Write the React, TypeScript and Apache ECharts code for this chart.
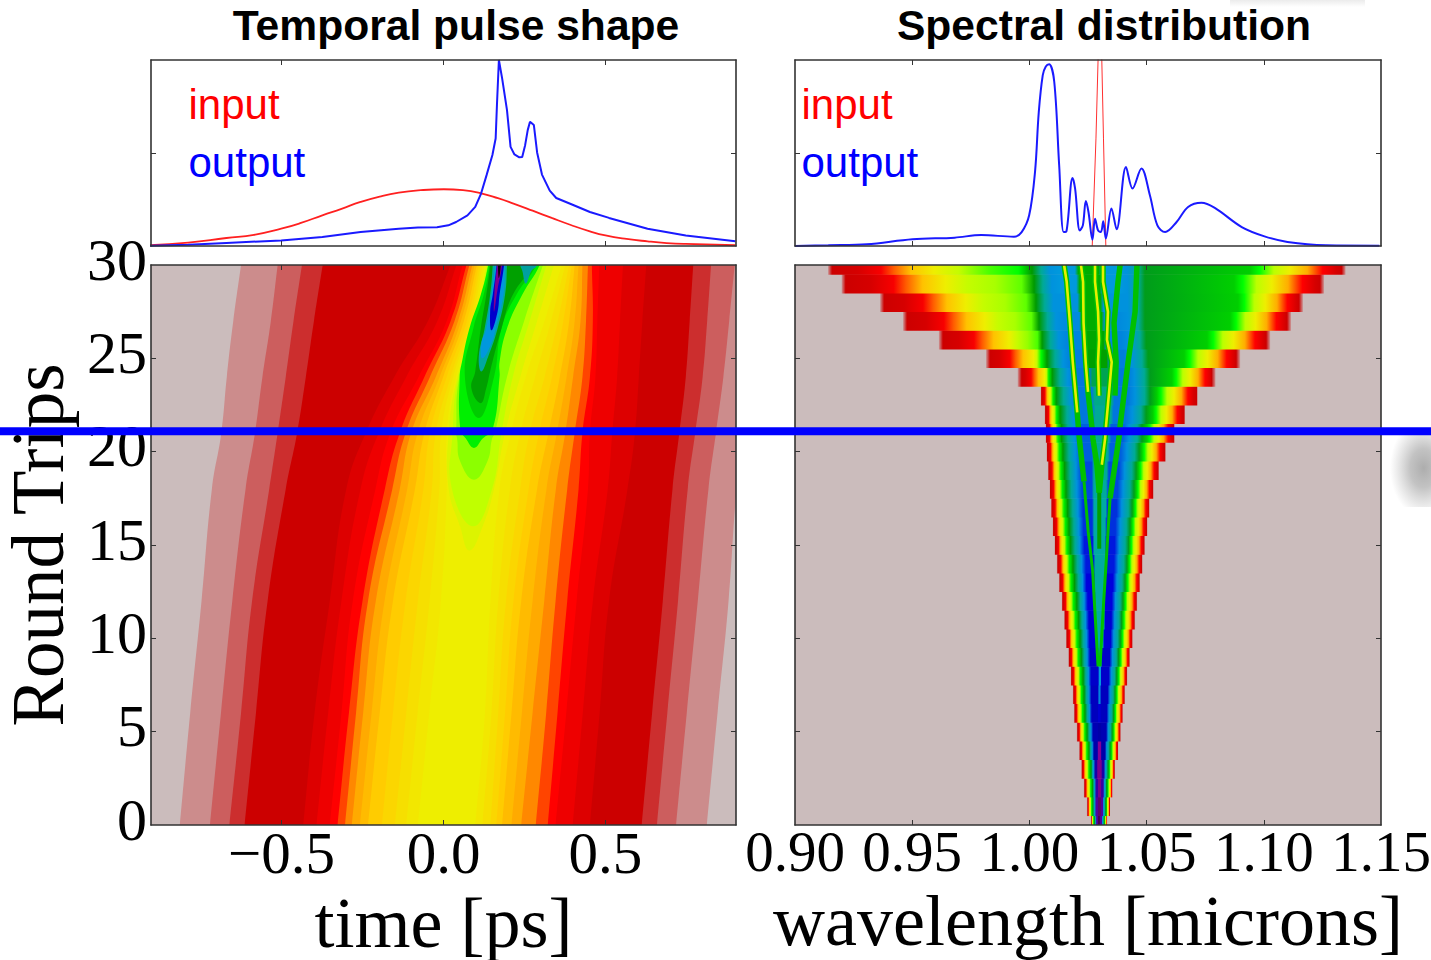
import React, { useEffect, useRef } from "react";
import * as echarts from "echarts";

// ---------- top panels ----------
const timeOutputT = [-0.906,-0.788,-0.67,-0.501,-0.374,-0.256,-0.138,-0.079,-0.02,0.015,0.039,0.074,0.098,0.116,0.133,0.151,0.161,0.165,0.171,0.181,0.196,0.207,0.219,0.234,0.243,0.252,0.26,0.267,0.279,0.289,0.304,0.328,0.348,0.393,0.452,0.511,0.63,0.748,0.901];
const timeOutputV = [0.002,0.007,0.016,0.03,0.048,0.075,0.093,0.099,0.101,0.111,0.129,0.165,0.21,0.282,0.381,0.489,0.578,0.758,1.0,0.901,0.731,0.533,0.492,0.477,0.479,0.542,0.623,0.668,0.65,0.503,0.384,0.298,0.258,0.226,0.183,0.151,0.093,0.056,0.025];
const timeInputT = [-0.906,-0.788,-0.67,-0.585,-0.501,-0.44,-0.374,-0.315,-0.256,-0.197,-0.138,-0.07,0.001,0.06,0.119,0.168,0.216,0.275,0.334,0.393,0.452,0.5,0.565,0.63,0.689,0.748,0.901];
const timeInputV = [0.004,0.018,0.043,0.06,0.093,0.124,0.165,0.2,0.237,0.266,0.287,0.3,0.305,0.3,0.282,0.257,0.228,0.19,0.151,0.113,0.079,0.057,0.038,0.025,0.016,0.011,0.004];

const specOutputL = [0.9,0.9142,0.9306,0.9501,0.9681,0.9795,0.9934,0.9967,0.9999,1.0024,1.004,1.0057,1.007,1.0084,1.0106,1.0127,1.0146,1.0158,1.0184,1.0195,1.0215,1.0228,1.0241,1.0252,1.0269,1.028,1.0293,1.0305,1.0315,1.0326,1.035,1.0372,1.0412,1.044,1.0478,1.0514,1.0546,1.0579,1.0628,1.0677,1.0734,1.0791,1.0906,1.1003,1.1101,1.1265,1.1493];
const specOutputV = [0,0.004,0.009,0.036,0.045,0.059,0.05,0.075,0.165,0.399,0.72,0.919,0.965,0.977,0.883,0.434,0.075,0.079,0.366,0.309,0.084,0.111,0.242,0.183,0.034,0.147,0.084,0.075,0.133,0.04,0.201,0.09,0.425,0.309,0.417,0.273,0.111,0.075,0.129,0.21,0.233,0.205,0.102,0.052,0.022,0.004,0.002];
const specInputL = [1.0268,1.0284,1.0294,1.03,1.0308,1.0316,1.0326];
const specInputV = [0,0.58,1.05,1.1,1.05,0.58,0];

// ---------- temporal contour map: boundaries in ps at each round trip ----------
const pulseRows = [0, 6, 12, 18, 21, 24, 27, 30];
const band1L = [-0.814,-0.782,-0.747,-0.715,-0.686,-0.669,-0.649,-0.625];
const band1R = [0.813,0.846,0.88,0.905,0.928,0.951,0.975,0.998];
const band2L = [-0.721,-0.687,-0.652,-0.611,-0.582,-0.559,-0.533,-0.512];
const band2R = [0.718,0.751,0.785,0.818,0.841,0.864,0.882,0.899];
const band3L = [-0.661,-0.625,-0.591,-0.538,-0.512,-0.487,-0.463,-0.437];
const band3R = [0.659,0.691,0.724,0.754,0.777,0.8,0.814,0.826];
const band4L = [-0.614,-0.579,-0.543,-0.487,-0.452,-0.425,-0.4,-0.373];
const band4R = [0.612,0.644,0.677,0.707,0.728,0.748,0.76,0.771];
const band5L = [-0.433,-0.398,-0.351,-0.3,-0.24,-0.152,-0.048,0.022];
const band5R = [0.452,0.482,0.511,0.568,0.591,0.603,0.614,0.626];
const band6L = [-0.392,-0.356,-0.315,-0.256,-0.2,-0.115,-0.019,0.04];
const band6R = [0.399,0.43,0.461,0.507,0.521,0.536,0.545,0.554];
const band7L = [-0.351,-0.315,-0.28,-0.21,-0.164,-0.077,0.01,0.059];
const band7R = [0.346,0.379,0.411,0.446,0.452,0.469,0.475,0.481];
const band8L = [-0.327,-0.292,-0.25,-0.181,-0.135,-0.059,0.022,0.071];
const band8R = [0.322,0.352,0.382,0.417,0.429,0.452,0.461,0.458];
const band9L = [-0.304,-0.27,-0.233,-0.158,-0.117,-0.042,0.034,0.08];
const band9R = [0.285,0.317,0.346,0.382,0.405,0.429,0.44,0.446];
const band10L = [-0.283,-0.248,-0.209,-0.135,-0.1,-0.024,0.045,0.089];
const band10R = [0.24,0.275,0.311,0.347,0.376,0.4,0.423,0.429];
const band10bL = [-0.258,-0.222,-0.182,-0.112,-0.08,-0.012,0.054,0.096];
const band10bR = [0.21,0.242,0.275,0.318,0.35,0.38,0.405,0.417];
const band11L = [-0.233,-0.197,-0.156,-0.088,-0.059,-0.001,0.063,0.103];
const band11R = [0.181,0.21,0.24,0.289,0.324,0.359,0.388,0.405];
const band11bL = [-0.19,-0.156,-0.117,-0.062,-0.042,0.01,0.072,0.109];
const band11bR = [0.163,0.19,0.216,0.263,0.295,0.335,0.37,0.396];
const band12L = [-0.15,-0.115,-0.079,-0.036,-0.024,0.022,0.08,0.115];
const band12R = [0.145,0.169,0.193,0.237,0.266,0.312,0.353,0.388];
const band12bL = [-0.115,-0.08,-0.043,-0.013,-0.007,0.03,0.087,0.121];
const band12bR = [0.12,0.148,0.169,0.205,0.237,0.283,0.332,0.376];
const band13L = [-0.079,-0.044,-0.008,0.01,0.01,0.039,0.094,0.127];
const band13R = [0.098,0.128,0.145,0.173,0.208,0.254,0.312,0.365];

// islands that open upward from a tip
const lime1Rows = [14.7, 16, 18, 21, 24, 27, 30];
const lime1L = [0.08,0.051,0.016,0.016,0.043,0.099,0.132];
const lime1R = [0.08,0.121,0.156,0.19,0.237,0.289,0.341];
const lime2Rows = [16, 18, 21, 24, 27, 30];
const lime2L = [0.092,0.026,0.028,0.046,0.101,0.135];
const lime2R = [0.092,0.15,0.179,0.214,0.266,0.318];
const lime3Rows = [18.5, 19.5, 20.7, 21, 24, 27, 30];
const lime3L = [0.094,0.051,0.042,0.039,0.049,0.103,0.137];
const lime3R = [0.094,0.136,0.15,0.159,0.196,0.249,0.307];
const greenRows = [20.2, 20.7, 21.2, 24, 24.8, 26.6, 28.4, 30];
const greenL = [0.094,0.069,0.052,0.05,0.057,0.08,0.115,0.138];
const greenR = [0.094,0.121,0.152,0.173,0.173,0.196,0.243,0.297];
const green2Rows = [21.8, 24, 26.6, 28.4, 30];
const green2L = [0.109,0.066,0.092,0.124,0.142];
const green2R = [0.109,0.156,0.179,0.225,0.287];
const darkRows = [22.6, 23.4, 24.3, 26.6, 28.4, 30];
const darkL = [0.115,0.086,0.098,0.115,0.132,0.144];
const darkR = [0.115,0.132,0.144,0.179,0.214,0.278];
const tealRows = [24.3, 25.1, 26.6, 28.4, 30];
const tealL = [0.117,0.109,0.127,0.144,0.152];
const tealR = [0.117,0.138,0.167,0.19,0.196];
const blueRows = [25, 25.8, 26.6, 28.4, 30];
const blueL = [0.12,0.117,0.132,0.148,0.159];
const blueR = [0.12,0.148,0.161,0.185,0.19];
const deepRows = [26.5, 27.5, 28.4, 30];
const deepL = [0.148,0.144,0.152,0.164];
const deepR = [0.148,0.167,0.173,0.187];
const purpleRows = [27.5, 28.7, 30];
const purpleL = [0.156,0.158,0.165];
const purpleR = [0.156,0.167,0.181];
const blackRows = [29.3, 30];
const blackL = [0.171,0.168];
const blackR = [0.171,0.177];
const teal2Rows = [29, 29.7, 30];
const teal2L = [0.254,0.243,0.237];
const teal2R = [0.254,0.272,0.289];

// ---------- spectral map: one row per round trip 0..30, microns ----------
const specLeftEdge = [1.0262,1.0245,1.0232,1.0221,1.0212,1.0202,1.019,1.0185,1.0176,1.0166,1.0156,1.0148,1.0138,1.0126,1.0117,1.0107,1.0099,1.0092,1.0086,1.0079,1.0073,1.0069,1.0065,1.0048,0.995,0.9815,0.9614,0.9461,0.9363,0.9199,0.9141];
const specLeftCore = [1.0277,1.0271,1.027,1.0263,1.0254,1.0246,1.0237,1.0233,1.0229,1.0221,1.0216,1.021,1.0202,1.0192,1.0186,1.0175,1.0169,1.0163,1.0156,1.015,1.0143,1.0137,1.0131,1.0114,1.0097,1.0075,1.0054,1.0041,1.0028,1.002,1.0011];
const specRightCore = [1.0318,1.0325,1.0329,1.0335,1.0344,1.0353,1.0359,1.0365,1.0372,1.038,1.0387,1.0393,1.0399,1.0408,1.0416,1.0423,1.0429,1.0438,1.0446,1.0455,1.0468,1.048,1.0498,1.0515,1.0515,1.0506,1.0498,1.0493,1.0493,1.0493,1.0493];
const specRightPlateau = [1.0322,1.0329,1.0334,1.034,1.0349,1.0358,1.0364,1.037,1.0378,1.0386,1.0393,1.0399,1.0405,1.0414,1.0422,1.0429,1.0436,1.0446,1.0456,1.0466,1.048,1.0502,1.0527,1.0544,1.0608,1.066,1.0758,1.0856,1.089,1.0873,1.0941];
const specRightEdge = [1.0332,1.0344,1.0355,1.0365,1.0379,1.039,1.0399,1.0408,1.0418,1.0429,1.0441,1.0451,1.046,1.0472,1.0483,1.0493,1.0504,1.0513,1.053,1.0553,1.0582,1.062,1.0664,1.0718,1.0794,1.0899,1.1027,1.1116,1.1167,1.1257,1.1349];
const specYellowAt = [0.5,0.5,0.5,0.5,0.5,0.5,0.5,0.5,0.5,0.5,0.5,0.5,0.5,0.5,0.5,0.5,0.5,0.5,0.5,0.5,0.5,0.5,0.5,0.55,0.78,0.78,0.68,0.6,0.55,0.54,0.52];
const specLeftMid = [0.58,0.58,0.58,0.58,0.58,0.58,0.58,0.58,0.58,0.58,0.58,0.58,0.58,0.58,0.58,0.58,0.58,0.58,0.58,0.58,0.58,0.58,0.58,0.58,0.58,0.6,0.64,0.645,0.645,0.645,0.62];
const specCoreV = [0.12,0.12,0.13,0.14,0.15,0.16,0.17,0.17,0.18,0.18,0.19,0.19,0.2,0.2,0.21,0.21,0.22,0.22,0.23,0.23,0.24,0.24,0.25,0.25,0.25,0.26,0.27,0.28,0.29,0.3,0.3];
const specCenterV = [0.03,0.04,0.06,0.06,0.09,0.15,0.19,0.27,0.3,0.33,0.35,0.36,0.36,0.36,0.36,0.36,0.36,0.36,0.37,0.38,0.38,0.38,0.38,0.4,0.42,0.46,0.47,0.48,0.48,0.48,0.48];
const specCenterHalf = [0.14,0.14,0.14,0.14,0.1,0.08,0.06,0.05,0.05,0.06,0.1,0.12,0.12,0.12,0.12,0.12,0.12,0.12,0.12,0.12,0.12,0.12,0.12,0.12,0.12,0.12,0.12,0.12,0.12,0.12,0.12];

// interference fringes: microns at round trips
const fringe1L = [1.0293,1.0276,1.027,1.0251,1.0233,1.0213,1.0204,1.0185,1.0173,1.0159,1.0148];
const fringe1T = [8.5,12.2,13.6,15.7,18.4,20.7,22.1,24.8,26.9,29.1,30];
const fringe2L = [1.0301,1.0318,1.0331,1.0344,1.0365,1.0384,1.0387,1.0421,1.0451,1.0459];
const fringe2T = [8.5,12.2,14.8,17.5,19.3,20.9,21.4,24.8,27.5,30];
const fringe3L = [1.0298,1.0288,1.0271,1.0266,1.025,1.024,1.0231,1.0229,1.022];
const fringe3T = [17.8,19.3,20.7,21.4,23.2,24.8,26.9,29.1,30];
const fringe4L = [1.0298,1.0309,1.0323,1.0327,1.034,1.0351,1.0331,1.0335,1.0314,1.0314];
const fringe4T = [17.8,19.3,20.7,21.4,23.2,24.8,26,27.5,29.1,30];
const fringe5L = [1.0297,1.0293,1.0297,1.0293,1.028,1.028];
const fringe5T = [23,24.8,26,27.5,29.1,30];
const fringe6L = [1.0365,1.037,1.0361,1.0378,1.0387];
const fringe6T = [23,24.8,26.9,29.1,30];
const fringe7L = [1.0298,1.0298];
const fringe7T = [14.8,17.8];
const fringeCoreFrom = [21, 99, 22, 19, 23, 99, 99];

// ---------- axis labels ----------
const timeTicks = [-0.5, 0, 0.5];
const waveInnerTicks = [0.95, 1.0, 1.05, 1.1];
const waveLabels = [0.9, 0.95, 1.0, 1.05, 1.1, 1.15];
const yInnerTicks = [5, 10, 15, 20, 25];
const titles = ["Temporal pulse shape", "Spectral distribution"];

const SPECTRAL: [number, number, number, number][] = [
  [0,0,0,0],[0.05,120,0,135],[0.1,135,0,153],[0.15,0,0,170],[0.2,0,0,221],[0.25,0,119,221],[0.3,0,153,221],[0.35,0,170,170],[0.4,0,170,136],[0.45,0,153,0],[0.5,0,187,0],[0.55,0,221,0],[0.6,0,255,0],[0.65,187,255,0],[0.7,238,238,0],[0.75,255,204,0],[0.8,255,153,0],[0.85,255,0,0],[0.9,221,0,0],[0.95,204,0,0],[1,204,204,204],
];
function spectral(v: number, a = 1) {
  for (let i = 1; i < SPECTRAL.length; i++) {
    if (v <= SPECTRAL[i][0]) {
      const p = SPECTRAL[i - 1], q = SPECTRAL[i];
      const f = (v - p[0]) / (q[0] - p[0]);
      const c = [1, 2, 3].map((j) => Math.round(p[j] + (q[j] - p[j]) * f));
      return `rgba(${c[0]},${c[1]},${c[2]},${a})`;
    }
  }
  return "rgb(204,204,204)";
}

const BG = "#cbbcbc";
const pulseContours = [
  { fill: "#cc8c8c", rows: pulseRows, left: band1L, right: band1R },
  { fill: "#cc5e5e", rows: pulseRows, left: band2L, right: band2R },
  { fill: "#cc2e2e", rows: pulseRows, left: band3L, right: band3R },
  { fill: "#cc0000", rows: pulseRows, left: band4L, right: band4R },
  { fill: "#dd0000", rows: pulseRows, left: band5L, right: band5R },
  { fill: "#ee0000", rows: pulseRows, left: band6L, right: band6R },
  { fill: "#ff0000", rows: pulseRows, left: band7L, right: band7R },
  { fill: "#ff4400", rows: pulseRows, left: band8L, right: band8R },
  { fill: "#ff8800", rows: pulseRows, left: band9L, right: band9R },
  { fill: "#ffaa00", rows: pulseRows, left: band10L, right: band10R },
  { fill: "#ffbb00", rows: pulseRows, left: band10bL, right: band10bR },
  { fill: "#ffcc00", rows: pulseRows, left: band11L, right: band11R },
  { fill: "#fbd600", rows: pulseRows, left: band11bL, right: band11bR },
  { fill: "#f6df00", rows: pulseRows, left: band12L, right: band12R },
  { fill: "#f2e700", rows: pulseRows, left: band12bL, right: band12bR },
  { fill: "#eeee00", rows: pulseRows, left: band13L, right: band13R },
  { fill: "#dcf400", rows: lime1Rows, left: lime1L, right: lime1R },
  { fill: "#c0ff00", rows: lime2Rows, left: lime2L, right: lime2R },
  { fill: "#8cff00", rows: lime3Rows, left: lime3L, right: lime3R },
  { fill: "#00f000", rows: greenRows, left: greenL, right: greenR },
  { fill: "#00cc00", rows: green2Rows, left: green2L, right: green2R },
  { fill: "#00a000", rows: darkRows, left: darkL, right: darkR },
  { fill: "#00a8a0", rows: tealRows, left: tealL, right: tealR },
  { fill: "#0098dd", rows: blueRows, left: blueL, right: blueR },
  { fill: "#0000cc", rows: deepRows, left: deepL, right: deepR },
  { fill: "#800090", rows: purpleRows, left: purpleL, right: purpleR },
  { fill: "#100010", rows: blackRows, left: blackL, right: blackR },
  { fill: "#00a0a0", rows: teal2Rows, left: teal2L, right: teal2R },
];

const fringes = [
  [fringe1L, fringe1T], [fringe2L, fringe2T], [fringe3L, fringe3T], [fringe4L, fringe4T],
  [fringe5L, fringe5T], [fringe6L, fringe6T], [fringe7L, fringe7T],
];

function renderContour(_p: any, api: any) {
  const c = pulseContours[api.value(0)];
  const n = c.rows.length;
  const pts: number[][] = [];
  const isBand = c.rows[0] === 0;
  // the contour runs past the frame so the rounded corners stay clipped away
  if (isBand) pts.push(api.coord([c.left[0] - (c.left[1] - c.left[0]) * 0.3, c.rows[0] - 1.8]));
  c.rows.forEach((r, i) => pts.push(api.coord([c.left[i], r])));
  pts.push(api.coord([c.left[n - 1] + (c.left[n - 1] - c.left[n - 2]) * 0.5, c.rows[n - 1] + 1.5]));
  pts.push(api.coord([c.right[n - 1] + (c.right[n - 1] - c.right[n - 2]) * 0.5, c.rows[n - 1] + 1.5]));
  const lastR = c.left[0] === c.right[0] ? 1 : 0;
  for (let i = n - 1; i >= lastR; i--) pts.push(api.coord([c.right[i], c.rows[i]]));
  if (isBand) pts.push(api.coord([c.right[0] - (c.right[1] - c.right[0]) * 0.3, c.rows[0] - 1.8]));
  return { type: "polygon", shape: { points: pts, smooth: 0.45 }, style: { fill: c.fill } };
}

function renderSpecRow(_p: any, api: any) {
  const k = api.value(0);
  const l0 = specLeftEdge[k], lc = specLeftCore[k], rc = specRightCore[k], rp = specRightPlateau[k], r0 = specRightEdge[k];
  const span = r0 - l0;
  const stops: { offset: number; color: string }[] = [];
  const add = (lam: number, v: number, a = 1) => stops.push({ offset: Math.min(1, Math.max(0, (lam - l0) / span)), color: spectral(v, a) });
  const y = specYellowAt[k], mid = specLeftMid[k], deep = mid >= 0.62 ? mid - 0.02 : 0.5;
  const pA = api.coord([l0, k + 0.5]), pB = api.coord([r0, k - 0.5]);
  const fade = k >= 24 ? 4 / (pB[0] - pA[0]) * span : 0.0004;
  add(l0, 0.95, 0.2);
  add(l0 + fade, 0.95);
  const left: [number, number][] = [[0.28, 0.92], [0.5, 0.86], [0.62, 0.82], [0.78, 0.76], [1, 0.7]];
  left.forEach(([f, v]) => add(l0 + (lc - l0) * y * f, v));
  const leftB: [number, number][] = [[0.25, 0.66], [0.56, mid], [0.86, deep], [1, 0.45]];
  leftB.forEach(([f, v]) => add(l0 + (lc - l0) * (y + (1 - y) * f), v));
  const cw = rc - lc, cv = specCoreV[k], mv = specCenterV[k], h = specCenterHalf[k];
  const core: [number, number][] = [[0.08, 0.38], [0.16, 0.29], [0.24, cv], [0.5 - h, cv], [0.5 - h + 0.03, mv], [0.5 + h - 0.03, mv], [0.5 + h, cv], [0.76, cv], [0.84, 0.29], [0.94, 0.38]];
  core.forEach(([f, v]) => add(lc + cw * f, v));
  add(rc, 0.44);
  add(rp, 0.53);
  const right: [number, number][] = [[0.1, 0.6], [0.25, 0.65], [0.42, 0.7], [0.6, 0.78], [0.76, 0.85], [0.9, 0.92]];
  right.forEach(([f, v]) => add(rp + (r0 - rp) * f, v));
  add(r0 - fade, 0.95);
  add(r0, 0.95, 0.2);
  return {
    type: "rect",
    shape: { x: pA[0], y: pA[1], width: pB[0] - pA[0], height: pB[1] - pA[1] + 0.4 },
    style: { fill: new (echarts.graphic as any).LinearGradient(0, 0, 1, 0, stops) },
  };
}

function renderFringe(_p: any, api: any) {
  const i = api.value(0);
  const [lam, rt] = fringes[i];
  const at = (keep: (r: number) => boolean) => lam.map((l, j) => (keep(rt[j]) ? api.coord([l, rt[j]]) : null)).filter(Boolean);
  const upper = at((r) => r >= 17.4);
  const lower = at((r) => r <= 18.4);
  const from = fringeCoreFrom[i];
  const corePts = at((r) => r >= from);
  const green = i === 6 ? "#00a000" : "#00c000";
  const children: any[] = [];
  if (lower.length > 1) children.push({ type: "polyline", shape: { points: lower }, style: { fill: "none", stroke: green, lineWidth: i === 6 ? 4 : 3, lineJoin: "round" } });
  if (upper.length > 1) children.push({ type: "polyline", shape: { points: upper }, style: { fill: "none", stroke: green, lineWidth: 5.5, lineJoin: "round" } });
  if (corePts.length > 1) children.push({ type: "polyline", shape: { points: corePts }, style: { fill: "none", stroke: "#e6f000", lineWidth: 2.6, lineJoin: "round" } });
  return { type: "group", children };
}

const serif = "'Liberation Serif'";
const sans = "'Liberation Sans'";
const LINE = "#333";

function frameAxis(gridIndex: number, position: string, min: number, max: number, ticks: number[] | null, extra: any = {}) {
  return {
    type: "value", gridIndex, position, min, max, z: 5, scale: true,
    splitLine: { show: false },
    axisLine: { show: true, onZero: false, lineStyle: { color: LINE, width: 1.6 } },
    axisTick: { show: !!ticks, inside: true, length: 5, lineStyle: { color: LINE, width: 1 }, ...(ticks ? { customValues: ticks } : {}) },
    axisLabel: { show: false },
    ...extra,
  };
}

const tickText = { show: true, fontFamily: serif, fontSize: 57, color: "#000" };
const nameText = { fontFamily: serif, fontSize: 72, color: "#000" };

function buildOption() {
  const T = 0.903;
  const xAxis: any[] = [
    frameAxis(0, "bottom", -T, T, timeTicks), frameAxis(0, "top", -T, T, timeTicks),
    frameAxis(1, "bottom", 0.9, 1.15, waveInnerTicks), frameAxis(1, "top", 0.9, 1.15, waveInnerTicks),
    frameAxis(2, "bottom", -T, T, timeTicks, {
      name: "time [ps]", nameLocation: "middle", nameGap: 60, nameTextStyle: nameText,
      axisLabel: { ...tickText, fontSize: 59, margin: -2, customValues: timeTicks, formatter: (v: number) => (v < 0 ? "\u2212" + Math.abs(v).toFixed(1) : v.toFixed(1)) },
    }),
    frameAxis(2, "top", -T, T, timeTicks),
    frameAxis(3, "bottom", 0.9, 1.15, waveInnerTicks, {
      name: "wavelength [microns]", nameLocation: "middle", nameGap: 60, nameTextStyle: nameText,
      axisLabel: { ...tickText, margin: -2, customValues: waveLabels, formatter: (v: number) => v.toFixed(2) },
    }),
    frameAxis(3, "top", 0.9, 1.15, waveInnerTicks),
  ];
  const yAxis: any[] = [
    frameAxis(0, "left", 0, 1, [0.5]), frameAxis(0, "right", 0, 1, [0.5]),
    frameAxis(1, "left", 0, 1, [0.5]), frameAxis(1, "right", 0, 1, [0.5]),
    frameAxis(2, "left", 0, 30, yInnerTicks, {
      interval: 5, name: "Round Trips", nameLocation: "middle", nameRotate: 90, nameGap: 76, nameTextStyle: { ...nameText, fontSize: 73 },
      axisLabel: { ...tickText, fontSize: 60, margin: 4, verticalAlign: "bottom", lineHeight: 11 },
    }),
    frameAxis(2, "right", 0, 30, yInnerTicks),
    frameAxis(3, "left", 0, 30, yInnerTicks), frameAxis(3, "right", 0, 30, yInnerTicks),
  ];
  const line = (name: string, xa: number, ya: number, xs: number[], ys: number[], color: string, width: number, smooth: number | boolean = false) => ({
    type: "line", name, xAxisIndex: xa, yAxisIndex: ya, showSymbol: false, smooth, clip: true, z: 3,
    data: xs.map((x, i) => [x, ys[i]]), lineStyle: { color, width }, itemStyle: { color },
  });
  const legendBase = {
    orient: "vertical", itemWidth: 0, itemHeight: 0, itemGap: 10, selectedMode: false, padding: 0, icon: "none",
    data: [
      { name: "input", icon: "none", textStyle: { color: "#ff0000" } },
      { name: "output", icon: "none", textStyle: { color: "#0000ff" } },
    ],
    textStyle: { fontFamily: sans, fontSize: 42, lineHeight: 48, padding: 0 },
  };
  const gridBase = { show: true, borderWidth: 0, outerBoundsMode: "none" };
  return {
    animation: false,
    backgroundColor: "#ffffff",
    title: [
      { text: titles[0], left: 451, top: -2, textAlign: "center", textStyle: { fontFamily: sans, fontWeight: "bold", fontSize: 42.6, color: "#000" } },
      { text: titles[1], left: 1099, top: -2, textAlign: "center", textStyle: { fontFamily: sans, fontWeight: "bold", fontSize: 42.6, color: "#000" } },
    ],
    legend: [
      { ...legendBase, left: 183.5, top: 80 },
      { ...legendBase, left: 796.5, top: 80 },
    ],
    grid: [
      { ...gridBase, left: 151, top: 60, width: 585, height: 186, backgroundColor: "#fff" },
      { ...gridBase, left: 795, top: 60, width: 586, height: 186, backgroundColor: "#fff" },
      { ...gridBase, left: 151, top: 265, width: 585, height: 560, backgroundColor: BG },
      { ...gridBase, left: 795, top: 265, width: 586, height: 560, backgroundColor: BG },
    ],
    xAxis, yAxis,
    series: [
      line("input", 0, 0, timeInputT, timeInputV, "#ff2020", 1.8, 0.5),
      line("output", 0, 0, timeOutputT, timeOutputV, "#1a1aff", 2),
      line("input", 2, 2, specInputL, specInputV, "#ff3030", 1),
      line("output", 2, 2, specOutputL, specOutputV, "#1a1aff", 2, 0.35),
      { type: "custom", name: "pulse", xAxisIndex: 4, yAxisIndex: 4, clip: true, z: 2, data: pulseContours.map((_, i) => [i]), renderItem: renderContour, silent: true },
      { type: "custom", name: "spectrum", xAxisIndex: 6, yAxisIndex: 6, clip: true, z: 2, data: specLeftEdge.map((_, i) => [i]), renderItem: renderSpecRow, silent: true },
      { type: "custom", name: "fringes", xAxisIndex: 6, yAxisIndex: 6, clip: true, z: 3, data: fringes.map((_, i) => [i]), renderItem: renderFringe, silent: true },
    ],
    graphic: [
      { type: "rect", z: 50, shape: { x: 1381.5, y: 435, width: 49.5, height: 72 }, style: { fill: new (echarts.graphic as any).RadialGradient(0.85, 0.46, 0.68, [{ offset: 0, color: "rgba(150,150,150,0.78)" }, { offset: 0.4, color: "rgba(155,155,155,0.6)" }, { offset: 1, color: "rgba(170,170,170,0)" }]) } },
      { type: "rect", z: 1, shape: { x: 1230, y: 0, width: 135, height: 7 }, style: { fill: new (echarts.graphic as any).LinearGradient(0, 0, 0, 1, [{ offset: 0, color: "rgba(190,190,190,0.3)" }, { offset: 1, color: "rgba(190,190,190,0)" }]) } },
      { type: "rect", z: 60, shape: { x: 0, y: 427.3, width: 1431, height: 8 }, style: { fill: "#0000ff" } },
    ],
  };
}

export default function App() {
  const ref = useRef<HTMLDivElement>(null);
  useEffect(() => {
    const chart = echarts.init(ref.current!, undefined, { renderer: "svg" });
    chart.setOption(buildOption() as any);
    return () => chart.dispose();
  }, []);
  return <div ref={ref} style={{ position: "fixed", left: 0, top: 0, width: 1431, height: 960, background: "#fff" }} />;
}
